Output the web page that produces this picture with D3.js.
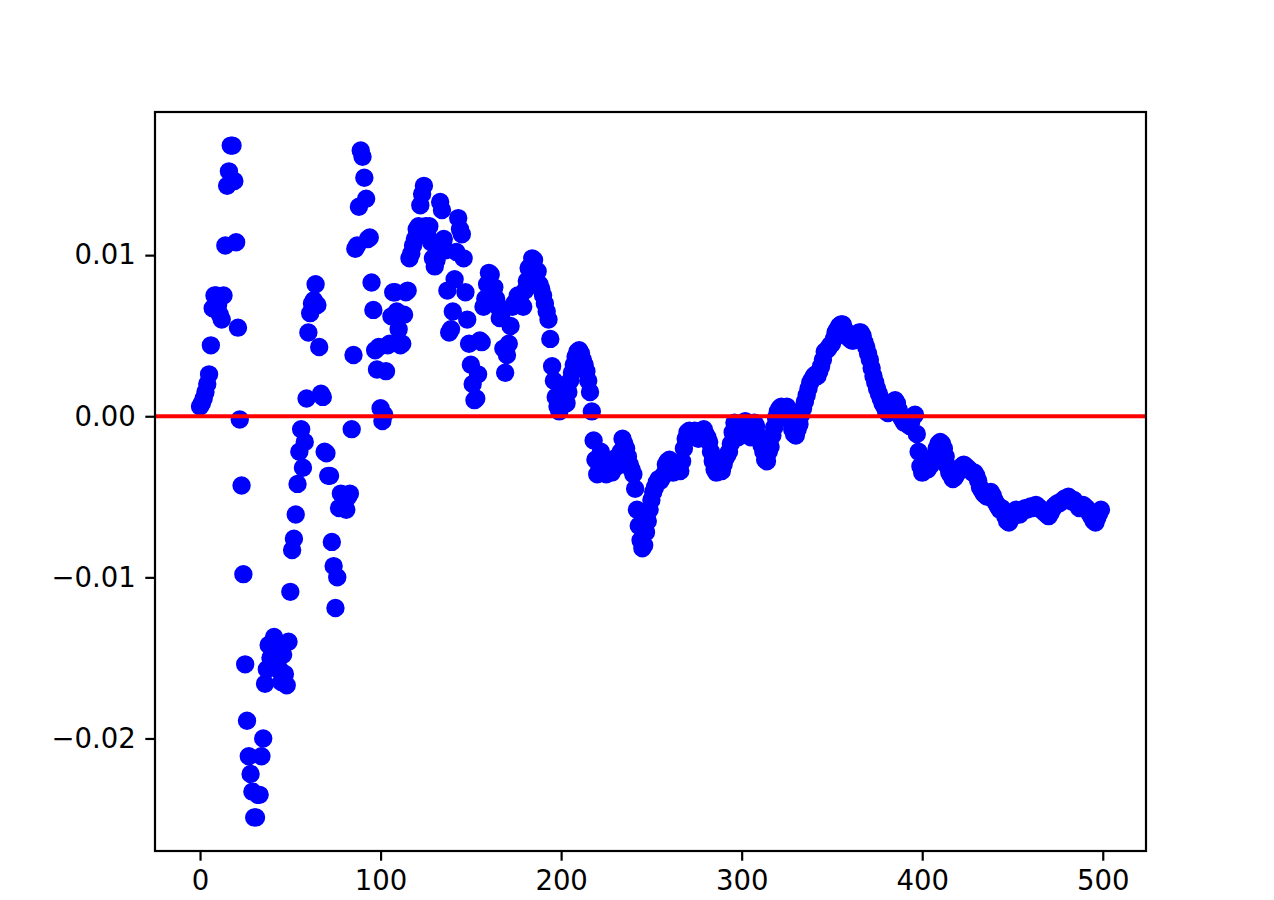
<!DOCTYPE html>
<html>
<head>
<meta charset="utf-8">
<script src="https://cdn.jsdelivr.net/npm/d3@7"></script>
<style>
  body { margin: 0; background: #fff; }
  svg { display: block; }
</style>
</head>
<body>
<script>
// Scatter of a slowly settling series around zero, red reference line at y = 0

// values, one per index 0..499 (ten per row)
const values = [
  0.0006, 0.0008, 0.0011, 0.0015, 0.0020, 0.0026, 0.0044, 0.0067, 0.0075, 0.0075,
  0.0069, 0.0063, 0.0060, 0.0075, 0.0106, 0.0143, 0.0152, 0.0168, 0.0168, 0.0146,
  0.0108, 0.0055, -0.0002, -0.0043, -0.0098, -0.0154, -0.0189, -0.0211, -0.0222, -0.0233,
  -0.0249, -0.0249, -0.0235, -0.0235, -0.0211, -0.0200, -0.0166, -0.0157, -0.0142, -0.0150,
  -0.0146, -0.0137, -0.0140, -0.0157, -0.0157, -0.0165, -0.0148, -0.0160, -0.0167, -0.0140,
  -0.0109, -0.0083, -0.0076, -0.0061, -0.0042, -0.0022, -0.0008, -0.0032, -0.0016, 0.0011,
  0.0052, 0.0064, 0.0070, 0.0072, 0.0082, 0.0069, 0.0043, 0.0014, 0.0012, -0.0022,
  -0.0023, -0.0037, -0.0037, -0.0078, -0.0093, -0.0119, -0.0100, -0.0057, -0.0048, -0.0049,
  -0.0055, -0.0058, -0.0050, -0.0048, -0.0008, 0.0038, 0.0104, 0.0106, 0.0130, 0.0165,
  0.0161, 0.0148, 0.0135, 0.0110, 0.0111, 0.0083, 0.0066, 0.0041, 0.0029, 0.0043,
  0.0005, -0.0003, 0.0001, 0.0028, 0.0044, 0.0045, 0.0062, 0.0077, 0.0077, 0.0065,
  0.0054, 0.0044, 0.0045, 0.0063, 0.0077, 0.0078, 0.0098, 0.0101, 0.0106, 0.0110,
  0.0116, 0.0118, 0.0131, 0.0138, 0.0143, 0.0118, 0.0112, 0.0118, 0.0108, 0.0098,
  0.0093, 0.0097, 0.0101, 0.0133, 0.0128, 0.0110, 0.0103, 0.0078, 0.0052, 0.0054,
  0.0065, 0.0085, 0.0102, 0.0123, 0.0116, 0.0113, 0.0098, 0.0077, 0.0060, 0.0045,
  0.0032, 0.0020, 0.0010, 0.0011, 0.0026, 0.0047, 0.0046, 0.0068, 0.0073, 0.0082,
  0.0089, 0.0088, 0.0075, 0.0080, 0.0073, 0.0068, 0.0061, 0.0064, 0.0042, 0.0027,
  0.0038, 0.0045, 0.0056, 0.0068, 0.0070, 0.0071, 0.0075, 0.0073, 0.0069, 0.0068,
  0.0078, 0.0084, 0.0092, 0.0093, 0.0098, 0.0097, 0.0090, 0.0090, 0.0082, 0.0079,
  0.0075, 0.0070, 0.0065, 0.0060, 0.0048, 0.0031, 0.0022, 0.0012, 0.0006, 0.0003,
  0.0010, 0.0019, 0.0012, 0.0008, 0.0015, 0.0022, 0.0027, 0.0032, 0.0037, 0.0040,
  0.0041, 0.0039, 0.0035, 0.0032, 0.0028, 0.0022, 0.0015, 0.0003, -0.0015, -0.0027,
  -0.0036, -0.0030, -0.0022, -0.0026, -0.0033, -0.0036, -0.0030, -0.0033, -0.0035, -0.0028,
  -0.0026, -0.0031, -0.0030, -0.0022, -0.0014, -0.0017, -0.0020, -0.0025, -0.0030, -0.0033,
  -0.0036, -0.0045, -0.0058, -0.0068, -0.0077, -0.0082, -0.0080, -0.0072, -0.0065, -0.0058,
  -0.0052, -0.0047, -0.0044, -0.0041, -0.0039, -0.0040, -0.0038, -0.0036, -0.0030, -0.0028,
  -0.0027, -0.0030, -0.0035, -0.0034, -0.0031, -0.0033, -0.0034, -0.0028, -0.0020, -0.0014,
  -0.0010, -0.0009, -0.0013, -0.0011, -0.0009, -0.0012, -0.0014, -0.0010, -0.0009, -0.0008,
  -0.0011, -0.0013, -0.0016, -0.0022, -0.0028, -0.0033, -0.0035, -0.0034, -0.0032, -0.0034,
  -0.0030, -0.0026, -0.0024, -0.0022, -0.0017, -0.0010, -0.0004, -0.0006, -0.0013, -0.0012,
  -0.0008, -0.0005, -0.0003, -0.0010, -0.0008, -0.0013, -0.0011, -0.0004, -0.0006, -0.0012,
  -0.0014, -0.0018, -0.0022, -0.0027, -0.0028, -0.0022, -0.0019, -0.0012, -0.0007, -0.0001,
  0.0003, 0.0005, 0.0006, 0.0004, 0.0005, 0.0006, 0.0003, -0.0003, -0.0008, -0.0011,
  -0.0012, -0.0008, -0.0005, 0.0001, 0.0005, 0.0009, 0.0013, 0.0017, 0.0021, 0.0023,
  0.0025, 0.0026, 0.0025, 0.0028, 0.0031, 0.0035, 0.0040, 0.0041, 0.0042, 0.0044,
  0.0045, 0.0048, 0.0052, 0.0054, 0.0056, 0.0057, 0.0057, 0.0054, 0.0051, 0.0049,
  0.0048, 0.0047, 0.0047, 0.0048, 0.0051, 0.0052, 0.0052, 0.0050, 0.0046, 0.0043,
  0.0039, 0.0035, 0.0030, 0.0025, 0.0021, 0.0017, 0.0014, 0.0011, 0.0008, 0.0006,
  0.0003, 0.0002, 0.0004, 0.0006, 0.0009, 0.0010, 0.0008, 0.0004, 0.0000, -0.0002,
  -0.0004, -0.0003, -0.0005, -0.0006, -0.0003, 0.0000, 0.0001, -0.0011, -0.0022, -0.0031,
  -0.0035, -0.0034, -0.0032, -0.0033, -0.0031, -0.0030, -0.0027, -0.0024, -0.0020, -0.0017,
  -0.0016, -0.0017, -0.0020, -0.0025, -0.0031, -0.0035, -0.0037, -0.0039, -0.0038, -0.0036,
  -0.0034, -0.0032, -0.0031, -0.0030, -0.0031, -0.0032, -0.0033, -0.0034, -0.0035, -0.0035,
  -0.0037, -0.0040, -0.0044, -0.0046, -0.0048, -0.0049, -0.0050, -0.0049, -0.0047, -0.0049,
  -0.0052, -0.0054, -0.0056, -0.0058, -0.0057, -0.0059, -0.0062, -0.0065, -0.0066, -0.0064,
  -0.0061, -0.0059, -0.0058, -0.0060, -0.0061, -0.0059, -0.0058, -0.0057, -0.0058, -0.0057,
  -0.0056, -0.0057, -0.0056, -0.0055, -0.0056, -0.0057, -0.0058, -0.0059, -0.0060, -0.0061,
  -0.0062, -0.0060, -0.0058, -0.0056, -0.0055, -0.0054, -0.0054, -0.0053, -0.0052, -0.0051,
  -0.0051, -0.0050, -0.0052, -0.0053, -0.0052, -0.0054, -0.0055, -0.0057, -0.0056, -0.0055,
  -0.0056, -0.0057, -0.0059, -0.0061, -0.0063, -0.0065, -0.0066, -0.0063, -0.0060, -0.0058
];

const xTicks = [0, 100, 200, 300, 400, 500];
const yTicks = [-0.02, -0.01, 0.00, 0.01];
const refLevel = 0;

const points = values.map((v, i) => [i, v]);

const W = 1274, H = 900;
const plotLeft = 155, plotRight = 1146, plotTop = 112, plotBottom = 851;

const svg = d3.select('body').append('svg')
  .attr('width', W)
  .attr('height', H)
  .style('background', '#fff');

// matplotlib style 5% margins on both axes
const xExt = d3.extent(points, d => d[0]);
const yExt = d3.extent(points, d => d[1]);
const xPad = (xExt[1] - xExt[0]) * 0.05;
const yPad = (yExt[1] - yExt[0]) * 0.05;

const x = d3.scaleLinear()
  .domain([xExt[0] - xPad, xExt[1] + xPad])
  .range([plotLeft, plotRight]);

const y = d3.scaleLinear()
  .domain([yExt[0] - yPad, yExt[1] + yPad])
  .range([plotBottom, plotTop]);

// clip to the axes box
svg.append('defs').append('clipPath')
  .attr('id', 'plot-clip')
  .append('rect')
  .attr('x', plotLeft).attr('y', plotTop)
  .attr('width', plotRight - plotLeft).attr('height', plotBottom - plotTop);

const plot = svg.append('g').attr('clip-path', 'url(#plot-clip)');

plot.append('g')
  .attr('class', 'points')
  .selectAll('circle')
  .data(points)
  .join('circle')
  .attr('cx', d => x(d[0]))
  .attr('cy', d => y(d[1]))
  .attr('r', 8.3)
  .attr('fill', '#0000ff')
  .attr('stroke', '#0000ff')
  .attr('stroke-width', 1.8);

// horizontal reference line, drawn over the points
plot.append('line')
  .attr('x1', plotLeft).attr('x2', plotRight)
  .attr('y1', y(refLevel)).attr('y2', y(refLevel))
  .attr('stroke', '#ff0000')
  .attr('stroke-width', 4);

const tickFont = g => g
  .attr('font-family', '"DejaVu Sans", sans-serif')
  .attr('font-size', 27.5);

// axes
const xAxis = svg.append('g')
  .attr('transform', `translate(0,${plotBottom})`)
  .call(d3.axisBottom(x).tickValues(xTicks).tickFormat(d3.format('d'))
    .tickSize(9.7).tickPadding(9.5))
  .call(tickFont);

const yAxis = svg.append('g')
  .attr('transform', `translate(${plotLeft},0)`)
  .call(d3.axisLeft(y).tickValues(yTicks).tickFormat(d3.format('.2f'))
    .tickSize(9.7).tickPadding(9.5))
  .call(tickFont);

[xAxis, yAxis].forEach(g => {
  g.select('.domain').remove();
  g.selectAll('.tick line').attr('stroke', '#000').attr('stroke-width', 2.2);
  g.selectAll('.tick text').attr('fill', '#000');
});

// spines
svg.append('rect')
  .attr('x', plotLeft).attr('y', plotTop)
  .attr('width', plotRight - plotLeft).attr('height', plotBottom - plotTop)
  .attr('fill', 'none')
  .attr('stroke', '#000')
  .attr('stroke-width', 2.2);
</script>
</body>
</html>
